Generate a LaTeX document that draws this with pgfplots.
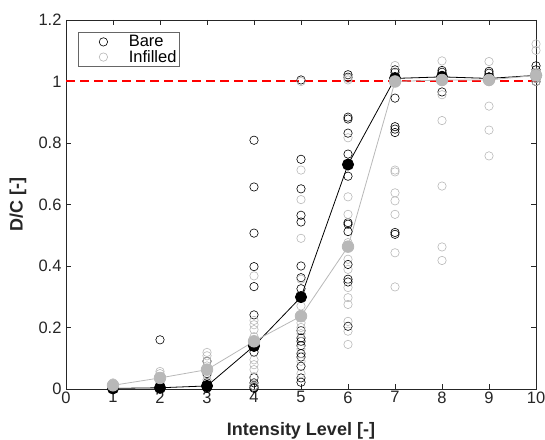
\documentclass[border=0pt]{standalone}
\usepackage{pgfplots}
\pgfplotsset{compat=1.18}
\usepackage{fontspec}
\setmainfont{Liberation Sans}

\definecolor{infill}{gray}{0.72}
\definecolor{axgray}{gray}{0.15}

% demand-to-capacity ratios per intensity level
\pgfplotstableread{
x    dc
1    0.000
1    0.001
1    0.002
1    0.003
1    0.005
2    0.160
2    0.000
2    0.002
2    0.005
2    0.010
3    0.090
3    0.050
3    0.020
3    0.005
3    0.002
4    0.809
4    0.657
4    0.507
4    0.398
4    0.333
4    0.241
4    0.120
4    0.037
4    0.020
4    0.010
4    0.005
4    0.002
5    1.005
5    0.747
5    0.651
5    0.565
5    0.543
5    0.400
5    0.362
5    0.326
5    0.190
5    0.166
5    0.155
5    0.141
5    0.115
5    0.104
5    0.074
5    0.036
5    0.022
6    1.022
6    1.014
6    0.884
6    0.878
6    0.832
6    0.764
6    0.692
6    0.541
6    0.536
6    0.512
6    0.405
6    0.357
6    0.348
6    0.204
7    1.038
7    1.030
7    1.016
7    1.005
7    0.946
7    0.853
7    0.845
7    0.834
7    0.509
7    0.503
8    1.036
8    1.030
8    1.020
8    1.010
8    0.966
9    1.033
9    1.027
9    1.015
9    1.005
9    1.000
10   1.051
10   1.038
10   1.020
10   1.010
10   1.000
}\bare

\pgfplotstableread{
x    dc
1    0.005
1    0.010
1    0.015
1    0.020
2    0.020
2    0.030
2    0.040
2    0.050
2    0.057
3    0.119
3    0.108
3    0.090
3    0.075
3    0.060
3    0.045
3    0.030
4    0.368
4    0.223
4    0.209
4    0.193
4    0.170
4    0.139
4    0.095
4    0.079
4    0.063
4    0.040
4    0.010
5    1.000
5    0.712
5    0.616
5    0.490
5    0.357
5    0.270
5    0.215
5    0.200
5    0.180
5    0.130
5    0.090
5    0.050
6    1.005
6    1.010
6    0.817
6    0.625
6    0.568
6    0.476
6    0.422
6    0.389
6    0.330
6    0.297
6    0.275
6    0.220
6    0.188
6    0.145
7    1.052
7    1.000
7    0.997
7    0.712
7    0.706
7    0.638
7    0.612
7    0.568
7    0.443
7    0.332
8    1.067
8    1.005
8    1.000
8    0.957
8    0.873
8    0.660
8    0.462
8    0.418
9    1.065
9    1.010
9    1.000
9    0.920
9    0.842
9    0.758
10   1.122
10   1.101
10   1.030
10   1.010
10   1.000
}\infilled

% mean per intensity level
\pgfplotstableread{
x    bare    infilled
1    0.002   0.012
2    0.004   0.036
3    0.010   0.063
4    0.140   0.155
5    0.299   0.237
6    0.730   0.463
7    1.010   1.000
8    1.015   1.005
9    1.010   1.005
10   1.020   1.020
}\means

\begin{document}
\begin{tikzpicture}
\path[use as bounding box] (-66pt,-50pt) rectangle (479pt,389pt);
\begin{axis}[
  scale only axis,
  width=470pt, height=369pt,
  xmin=0, xmax=10, ymin=0, ymax=1.2,
  xtick={0,1,...,10},
  ytick={0,0.2,0.4,0.6,0.8,1,1.2},
  tick align=inside,
  major tick length=5pt,
  axis line style={axgray, line width=0.7pt},
  tick style={axgray, line width=0.7pt},
  tick label style={font=\fontsize{16.5}{18}\selectfont, text=axgray},
  xticklabel style={yshift=1pt},
  yticklabel style={xshift=-1pt},
  /pgf/number format/assume math mode=true,
  /pgf/number format/fixed,
  xlabel={\textbf{Intensity Level [-]}},
  ylabel={\textbf{D/C [-]}},
  label style={font=\fontsize{18}{20}\selectfont, text=axgray},
  xlabel style={at={(axis description cs:0.5,-0.113)}, anchor=center},
  ylabel style={at={(axis description cs:-0.102,0.5)}, anchor=center},
  legend style={
    at={(0.0245,0.967)}, anchor=north west,
    draw=black!60, line width=0.6pt,
    font=\fontsize{16.5}{18}\selectfont,
    inner xsep=2pt, inner ysep=2pt,
    nodes={inner xsep=1pt, inner ysep=1pt},
    row sep=0pt,
    cells={anchor=west},
  },
  legend cell align=left,
  legend image code/.code={%
    \path[draw=none, fill=none] (0pt,-3pt) rectangle (48pt,3pt);
    \draw[#1] plot coordinates {(23.6pt,0pt)};},
  clip=false,
]
% capacity limit D/C = 1
\addplot[forget plot, no markers, draw=red, line width=2pt, dash pattern=on 9pt off 5pt]
  coordinates {(0,1) (10,1)};

\addplot[only marks, mark=o, mark size=4.2pt, black, line width=0.6pt] table[x=x, y=dc] {\bare};
\addlegendentry{Bare}
\addplot[only marks, mark=o, mark size=4.2pt, infill, line width=0.6pt] table[x=x, y=dc] {\infilled};
\addlegendentry{Infilled}

\addplot[black, line width=0.8pt, mark=*, mark size=5.6pt, mark options={fill=black, draw=black}, forget plot] table[x=x, y=bare] {\means};
\addplot[infill, line width=0.8pt, mark=*, mark size=5.8pt, mark options={fill=infill, draw=infill}, forget plot] table[x=x, y=infilled] {\means};
\end{axis}
\end{tikzpicture}
\end{document}
